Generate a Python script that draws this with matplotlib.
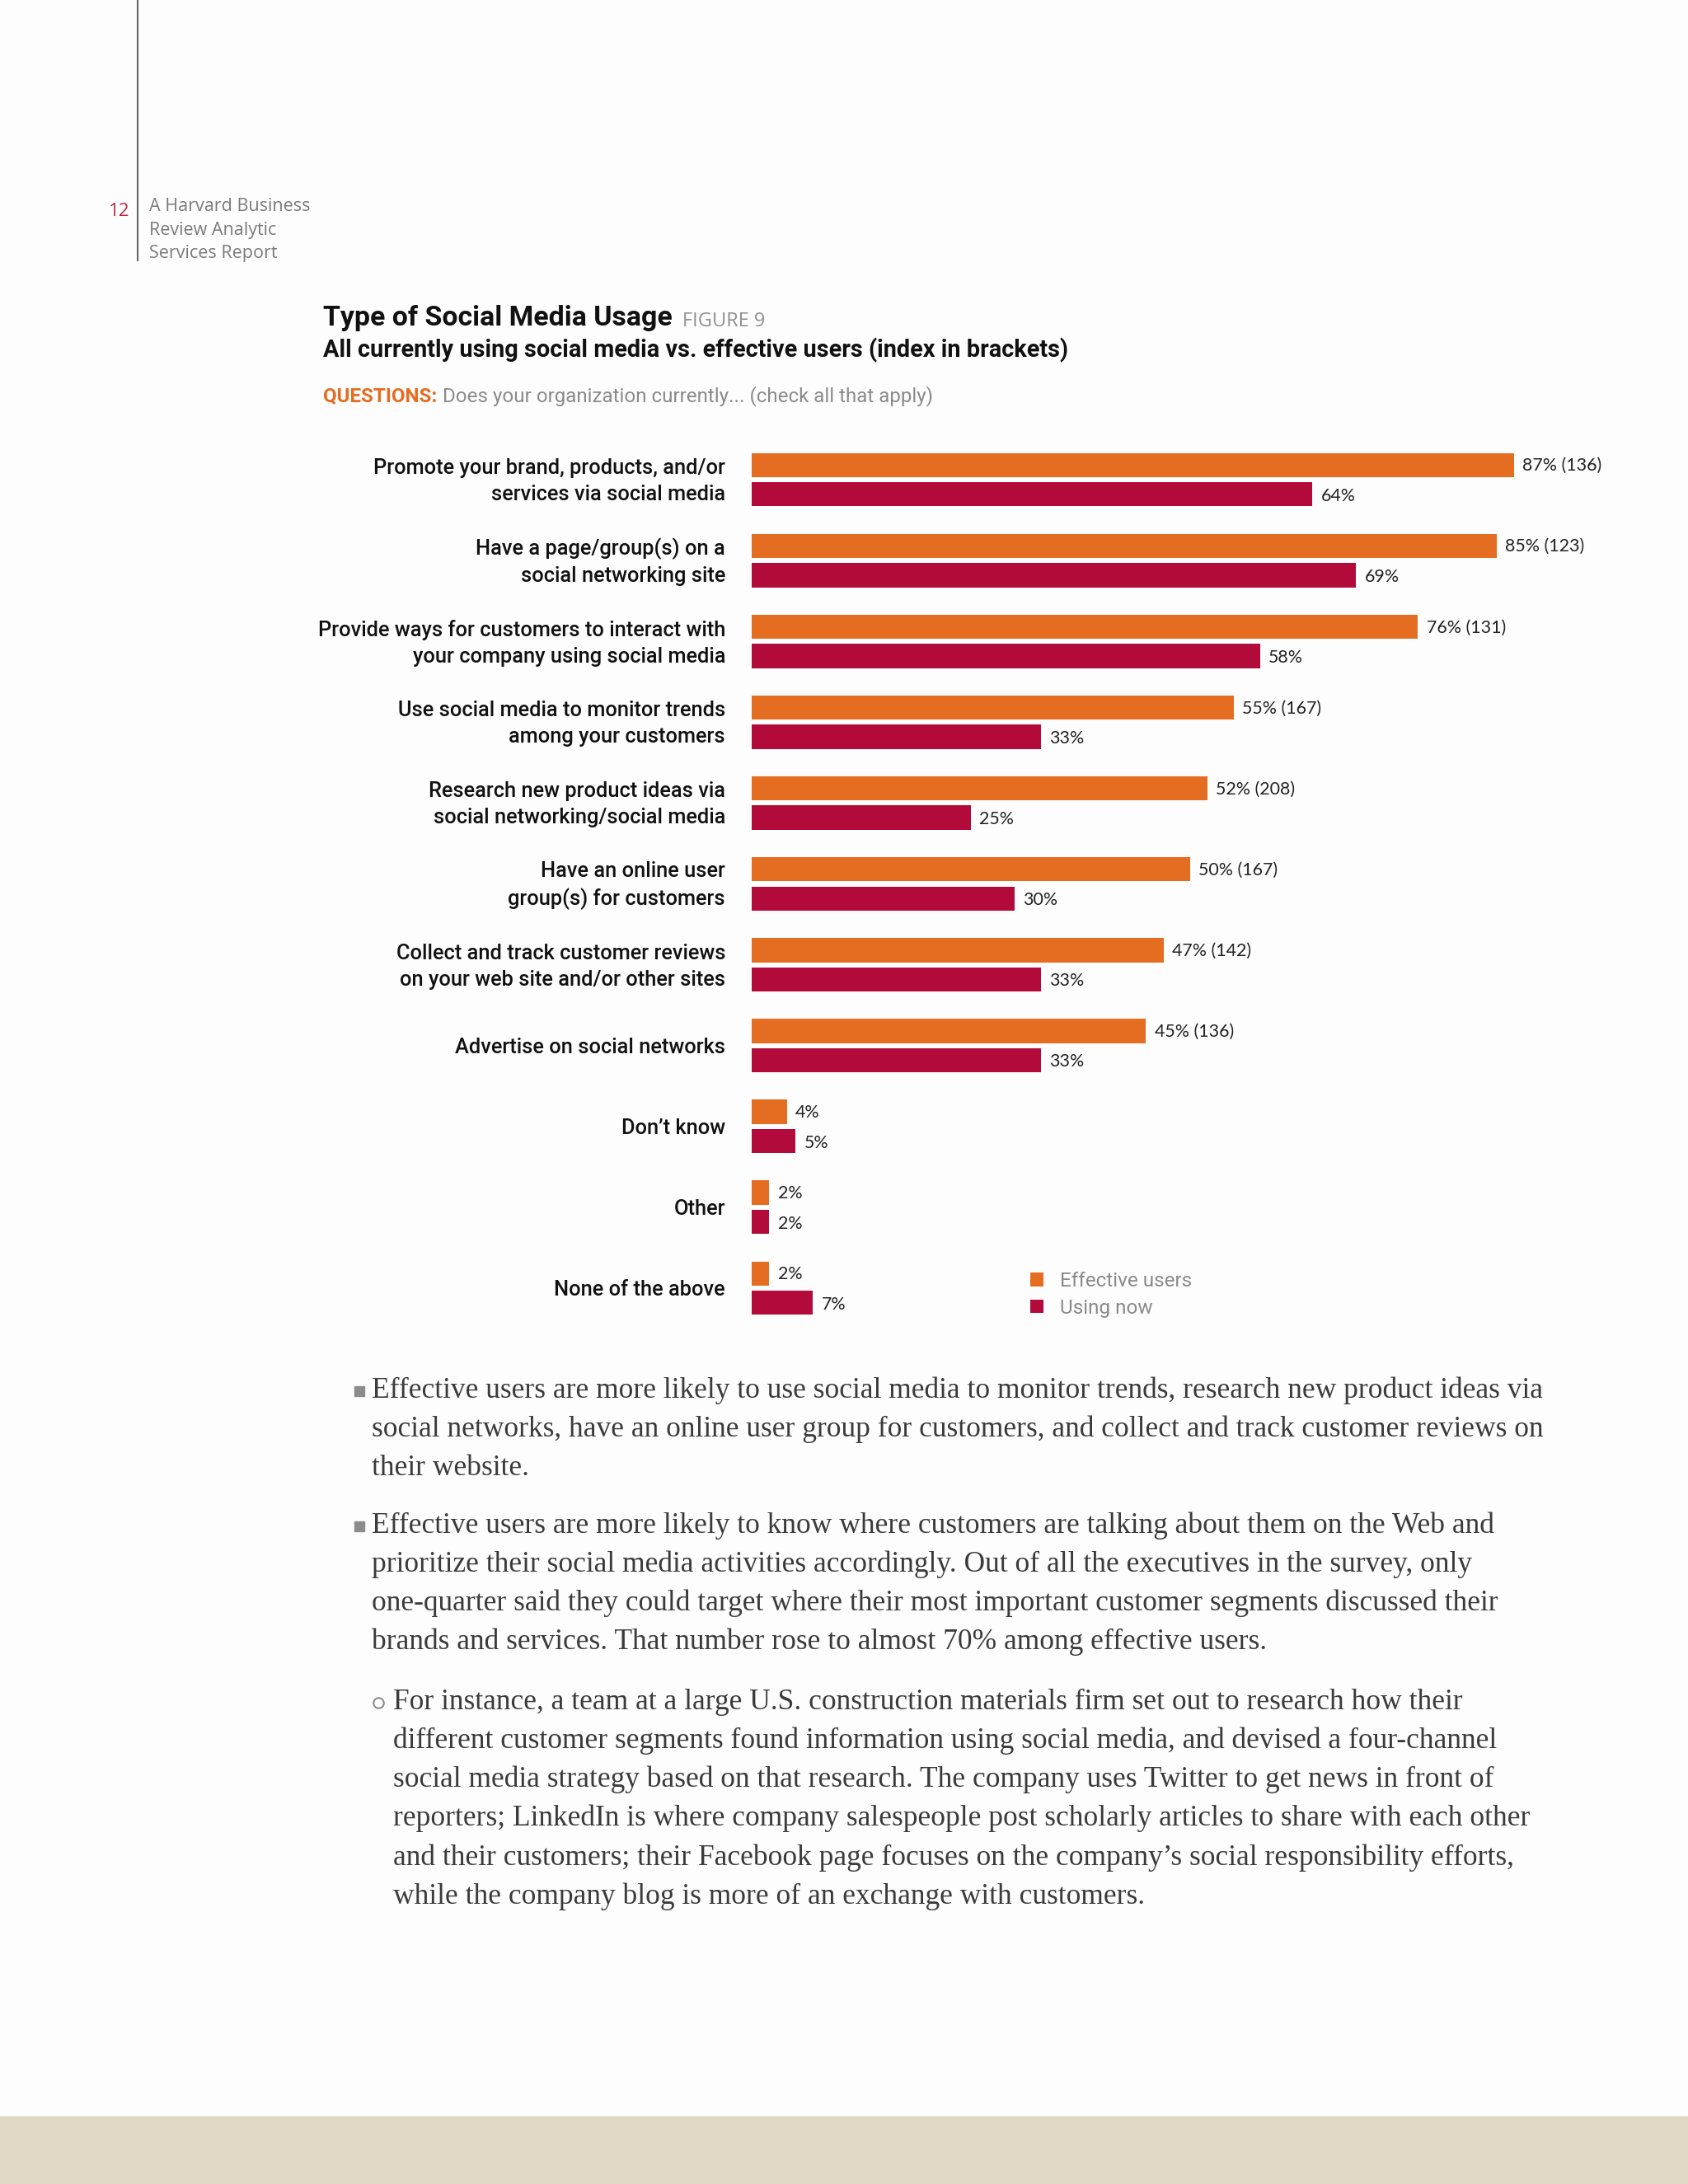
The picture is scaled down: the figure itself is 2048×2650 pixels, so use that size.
import matplotlib
matplotlib.use('Agg')
import matplotlib.pyplot as plt
import numpy as np
from matplotlib.patches import Rectangle
from matplotlib.lines import Line2D

# data
categories = [
    "Promote your brand, products, and/or\nservices via social media",
    "Have a page/group(s) on a\nsocial networking site",
    "Provide ways for customers to interact with\nyour company using social media",
    "Use social media to monitor trends\namong your customers",
    "Research new product ideas via\nsocial networking/social media",
    "Have an online user\ngroup(s) for customers",
    "Collect and track customer reviews\non your web site and/or other sites",
    "Advertise on social networks",
    "Don\u2019t know",
    "Other",
    "None of the above",
]
effective = [87, 85, 76, 55, 52, 50, 47, 45, 4, 2, 2]
effective_index = [136, 123, 131, 167, 208, 167, 142, 136, None, None, None]
using_now = [64, 69, 58, 33, 25, 30, 33, 33, 5, 2, 7]
series_names = ["Effective users", "Using now"]

body_para1 = [
    "Effective users are more likely to use social media to monitor trends, research new product ideas via",
    "social networks, have an online user group for customers, and collect and track customer reviews on",
    "their website.",
]
body_para2 = [
    "Effective users are more likely to know where customers are talking about them on the Web and",
    "prioritize their social media activities accordingly. Out of all the executives in the survey, only",
    "one-quarter said they could target where their most important customer segments discussed their",
    "brands and services. That number rose to almost 70% among effective users.",
]
body_para3 = [
    "For instance, a team at a large U.S. construction materials firm set out to research how their",
    "different customer segments found information using social media, and devised a four-channel",
    "social media strategy based on that research. The company uses Twitter to get news in front of",
    "reporters; LinkedIn is where company salespeople post scholarly articles to share with each other",
    "and their customers; their Facebook page focuses on the company\u2019s social responsibility efforts,",
    "while the company blog is more of an exchange with customers.",
]

ORANGE = '#E56D22'
CRIMSON = '#B20A3A'
GRAY = '#8a8a8a'
TEXT = '#3b3b3b'

W, H = 2048, 2650
fig = plt.figure(figsize=(W / 100, H / 100), dpi=100)
fig.patch.set_facecolor('#fdfdfd')

def fx(px):
    return px / W

def fy(py):
    return 1 - py / H

# page furniture
fig.add_artist(Line2D([fx(167), fx(167)], [fy(0), fy(316)], color='#666666', lw=1.5))
fig.text(fx(157), fy(256), "12", color='#B5293F', fontsize=16, family='Open Sans',
         ha='right', va='center')
for i, line in enumerate(["A Harvard Business", "Review Analytic", "Services Report"]):
    fig.text(fx(181), fy(251 + i * 28.5), line, color='#7a7a7a', fontsize=15.5,
             family='Open Sans', ha='left', va='center')
fig.add_artist(Rectangle((0, 0), 1, fy(2568), transform=fig.transFigure,
                         color='#E0D9C5', zorder=0))

# titles
title = fig.text(fx(392), fy(386), "Type of Social Media Usage", fontsize=24.4,
                 family='Roboto', fontweight='bold', color='#111111', va='center')
fig.text(fx(392), fy(425), "All currently using social media vs. effective users (index in brackets)",
         fontsize=20.8, family='Roboto', fontweight='bold', color='#111111', va='center')
q = fig.text(fx(392), fy(481), "QUESTIONS:", fontsize=17.4, family='Roboto',
             fontweight='bold', color=ORANGE, va='center')

fig.canvas.draw()
r = fig.canvas.get_renderer()
tb = title.get_window_extent(r)
fig.text((tb.x1 + 12) / W, fy(390), "FIGURE 9", fontsize=17, family='Open Sans',
         color='#909090', va='center')
qb = q.get_window_extent(r)
fig.text((qb.x1 + 7) / W, fy(481), "Does your organization currently... (check all that apply)",
         fontsize=17.4, family='Roboto', color='#8a8a8a', va='center')

# bar chart
row_top, row_step = 582, 98.1
n = len(categories)
ax = fig.add_axes([fx(912), fy(row_top + (n - 0.5) * row_step),
                   1063 / W, n * row_step / H])
ax.set_xlim(0, 100)
ax.set_ylim(n - 0.5, -0.5)
ax.axis('off')

y = np.arange(n)
off = 0.181
bh = 0.30
ax.barh(y - off, effective, height=bh, color=ORANGE, label=series_names[0])
ax.barh(y + off, using_now, height=bh, color=CRIMSON, label=series_names[1])

for i in range(n):
    lab = f"{effective[i]}%"
    if effective_index[i] is not None:
        lab += f" ({effective_index[i]})"
    ax.text(effective[i] + 1.0, y[i] - off + 0.01, lab, fontsize=15.4, family='Lato',
            color='#222222', va='center', ha='left')
    ax.text(using_now[i] + 1.0, y[i] + off + 0.02, f"{using_now[i]}%", fontsize=15.4,
            family='Lato', color='#222222', va='center', ha='left')
    ax.text(-3.0, y[i] + 0.02, categories[i], fontsize=18.3, family='Roboto',
            fontweight='medium', color='#111111', ha='right', va='center',
            multialignment='right', linespacing=1.42)

leg = fig.legend(loc='upper left', bbox_to_anchor=(fx(1250), fy(1543)), frameon=False,
                 handlelength=0.65, handleheight=0.65, handletextpad=0.85,
                 labelspacing=0.4, borderpad=0, borderaxespad=0,
                 prop={'family': 'Roboto', 'size': 17.5})
for t in leg.get_texts():
    t.set_color(GRAY)

# body text
lh = 47.2
def para(lines, x_text, y0, marker):
    for j, line in enumerate(lines):
        fig.text(fx(x_text), fy(y0 + j * lh), line, fontsize=25.5, family='Liberation Serif',
                 color=TEXT, ha='left', va='center')
    if marker == 'square':
        fig.add_artist(Rectangle((fx(430), fy(y0 + 7)), 12 / W, 12 / H,
                                 transform=fig.transFigure, color='#8c8c8c'))
    else:
        fig.add_artist(Line2D([fx(459)], [fy(y0 + 1)], marker='o', markersize=9,
                              markerfacecolor='none', markeredgecolor='#8c8c8c',
                              markeredgewidth=1.5))

para(body_para1, 451, 1687, 'square')
para(body_para2, 451, 1851, 'square')
para(body_para3, 477, 2065, 'circle')

fig.savefig('out.png', dpi=100, facecolor=fig.get_facecolor())
